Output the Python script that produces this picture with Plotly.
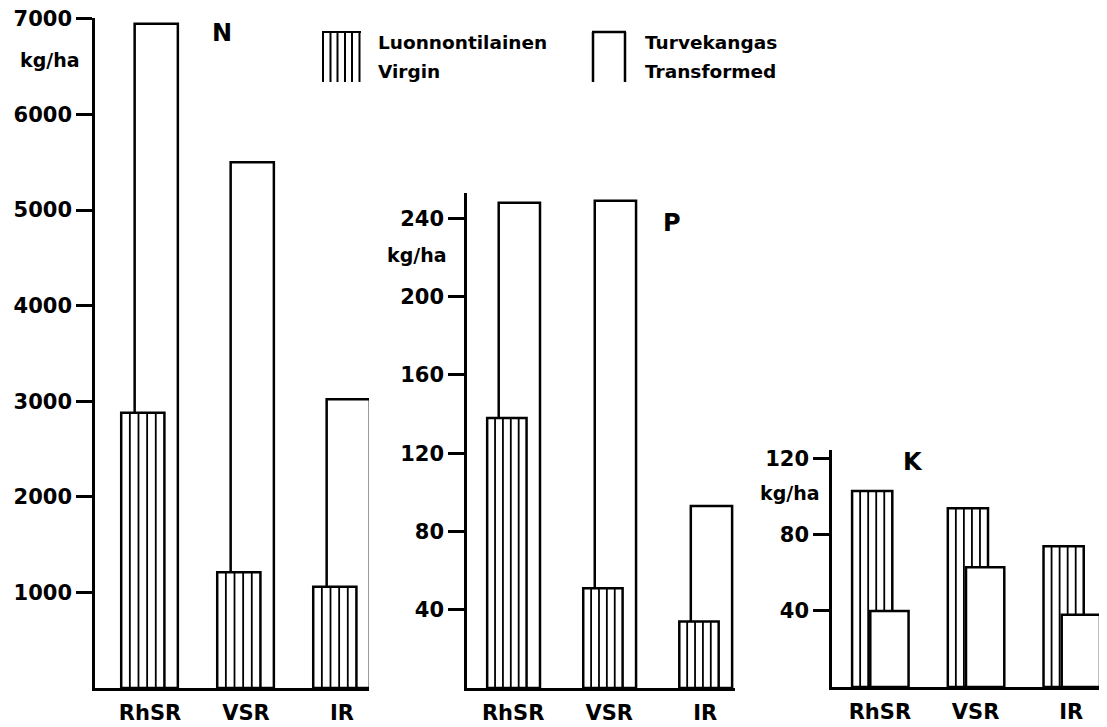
import plotly.graph_objects as go

# ---- data ----
categories = ["RhSR", "VSR", "IR"]
n_virgin = [2880, 1210, 1060]
n_transformed = [6950, 5500, 3020]
p_virgin = [138, 51, 34]
p_transformed = [248, 249, 93]
k_virgin = [103, 94, 74]
k_transformed = [40, 63, 38]
n_ticks = [1000, 2000, 3000, 4000, 5000, 6000, 7000]
p_ticks = [40, 80, 120, 160, 200, 240]
k_ticks = [40, 80, 120]
unit_label = "kg/ha"
legend_virgin = ["Luonnontilainen", "Virgin"]
legend_transformed = ["Turvekangas", "Transformed"]

PAGE_W, PAGE_H = 1107, 727
OX, OY = 8, 8          # default page body margin
W, H = PAGE_W - OX, PAGE_H - OY
FONT = "DejaVu Sans"
LW = 2.5
xs = list(range(len(categories)))


def px(x):
    return (x - OX) / W


def py(y):
    return 1 - (y - OY) / H


def bar(vals, xa, ya, offset, width, name):
    return go.Bar(
        x=xs, y=vals, offset=offset, width=width, xaxis=xa, yaxis=ya,
        marker=dict(color="white", line=dict(color="black", width=LW)),
        showlegend=False, name=name)


shapes = []


def hatch(vals, xref, yref, offset, width, front=None):
    """Vertical hatching inside the virgin bars (4 inner lines per bar)."""
    for i, v in enumerate(vals):
        for k in range(1, 5):
            xv = i + offset + width * k / 5
            y0 = 0
            if front is not None:
                fv, fo, fw = front
                if i + fo <= xv <= i + fo + fw:
                    y0 = fv[i]
            shapes.append(dict(type="line", xref=xref, yref=yref,
                               x0=xv, x1=xv, y0=y0, y1=v, layer="above",
                               line=dict(color="black", width=1.8)))


fig = go.Figure()
# N panel: taller transformed behind, virgin in front
fig.add_trace(bar(n_transformed, "x", "y", -0.16, 0.45, "Transformed"))
fig.add_trace(bar(n_virgin, "x", "y", -0.30, 0.45, "Virgin"))
hatch(n_virgin, "x", "y", -0.30, 0.45)
# P panel
fig.add_trace(bar(p_transformed, "x2", "y2", -0.15, 0.43, "Transformed"))
fig.add_trace(bar(p_virgin, "x2", "y2", -0.27, 0.41, "Virgin"))
hatch(p_virgin, "x2", "y2", -0.27, 0.41)
# K panel: taller virgin behind, transformed in front
fig.add_trace(bar(k_virgin, "x3", "y3", -0.29, 0.42, "Virgin"))
fig.add_trace(bar(k_transformed, "x3", "y3", -0.10, 0.40, "Transformed"))
hatch(k_virgin, "x3", "y3", -0.29, 0.42, front=(k_transformed, -0.10, 0.40))

tickfont = dict(family=FONT, size=21, color="black", weight="bold")


def yaxis(domain, rng, ticks, anchor):
    return dict(domain=domain, range=rng, tickvals=ticks, anchor=anchor,
                showline=True, linecolor="black", linewidth=LW,
                ticks="outside", ticklen=16, tickwidth=LW, tickcolor="black",
                showgrid=False, zeroline=False, tickfont=tickfont,
                ticklabeloverflow="allow",
                automargin=False, fixedrange=True)


def xaxis(domain, rng, anchor):
    return dict(domain=domain, range=rng, tickvals=xs, ticktext=categories,
                anchor=anchor, showline=True, linecolor="black", linewidth=LW,
                ticks="", showgrid=False, zeroline=False, tickfont=tickfont,
                ticklabelstandoff=4, ticklabeloverflow="allow",
                automargin=False, fixedrange=True)


annotations = []


def text(x, y, s, size=19, xanchor="center"):
    annotations.append(dict(x=px(x), y=py(y), xref="paper", yref="paper",
                            text=s, showarrow=False, xanchor=xanchor,
                            yanchor="middle",
                            font=dict(family=FONT, size=size, color="black",
                                      weight="bold")))


text(50, 60, unit_label)
text(417, 255, unit_label)
text(790, 493, unit_label)
text(222, 33, "N", size=24)
text(672, 223, "P", size=24)
text(913, 462, "K", size=24)
text(376, 42, legend_virgin[0], size=18.5, xanchor="left")
text(376, 72, legend_virgin[1], size=18.5, xanchor="left")
text(643, 42, legend_transformed[0], size=18.5, xanchor="left")
text(643, 72, legend_transformed[1], size=18.5, xanchor="left")


def seg(x0, y0, x1, y1, w=LW):
    shapes.append(dict(type="line", xref="paper", yref="paper",
                       x0=px(x0), y0=py(y0), x1=px(x1), y1=py(y1),
                       line=dict(color="black", width=w)))


# legend symbols
seg(322, 32, 361, 32, 2)
for xv in [323, 330.5, 337.5, 345, 352, 359.5]:
    seg(xv, 32, xv, 82, 2)
seg(592, 32, 626, 32, LW)
seg(593, 32, 593, 82, LW)
seg(625, 32, 625, 82, LW)

fig.update_layout(
    width=W, height=H, margin=dict(l=0, r=0, t=0, b=0, pad=0),
    paper_bgcolor="white", plot_bgcolor="rgba(0,0,0,0)",
    barmode="overlay", showlegend=False,
    xaxis=xaxis([px(95), px(369)], [-0.573, 2.281], "y"),
    yaxis=yaxis([py(688), py(18)], [0, 7010], n_ticks, "x"),
    xaxis2=xaxis([px(467), px(735)], [-0.48, 2.31], "y2"),
    yaxis2=yaxis([py(688), py(193)], [0, 253], p_ticks, "x2"),
    xaxis3=xaxis([px(832), px(1100)], [-0.50, 2.30], "y3"),
    yaxis3=yaxis([py(687), py(450)], [0, 124.6], k_ticks, "x3"),
    annotations=annotations, shapes=shapes,
)

fig.write_html("out.html")
